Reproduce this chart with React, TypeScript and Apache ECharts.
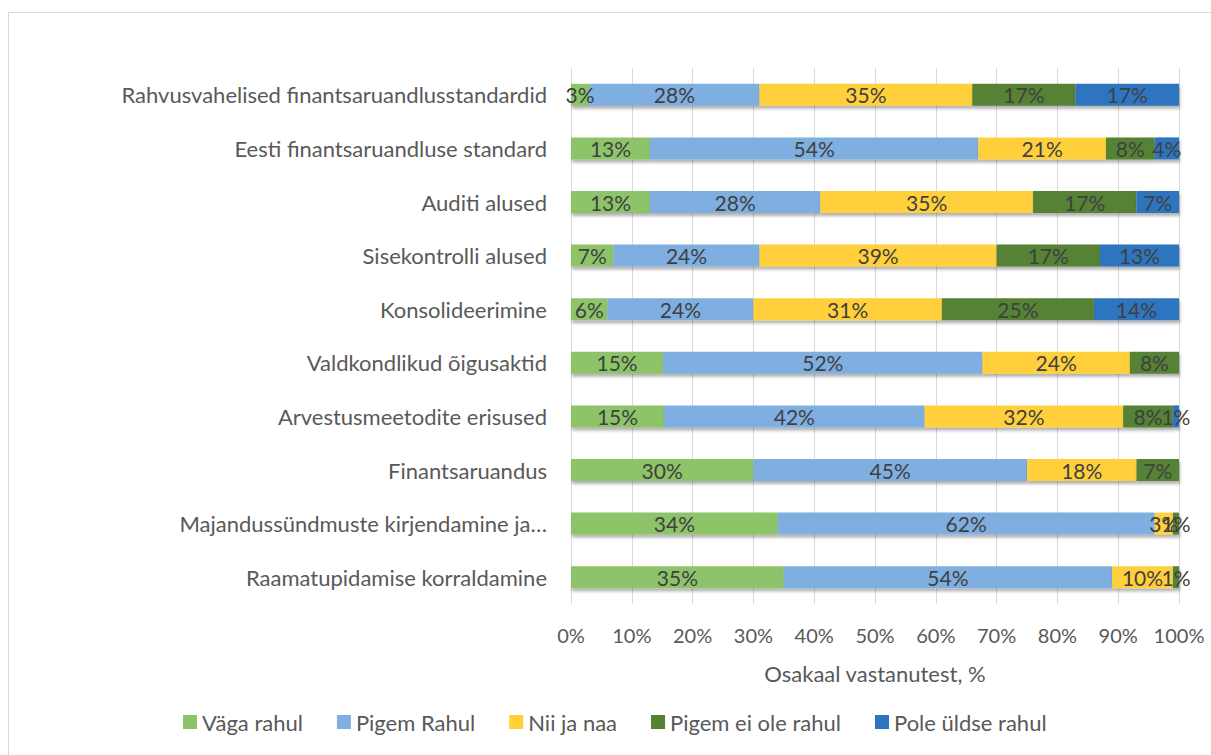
import React, { useEffect, useRef } from "react";
import * as echarts from "echarts";

const categories = [
  "Rahvusvahelised finantsaruandlusstandardid",
  "Eesti finantsaruandluse standard",
  "Auditi alused",
  "Sisekontrolli alused",
  "Konsolideerimine",
  "Valdkondlikud õigusaktid",
  "Arvestusmeetodite erisused",
  "Finantsaruandus",
  "Majandussündmuste kirjendamine ja…",
  "Raamatupidamise korraldamine",
];

const seriesNames = ["Väga rahul", "Pigem Rahul", "Nii ja naa", "Pigem ei ole rahul", "Pole üldse rahul"];
const seriesColors = ["#8DC46A", "#7FAEE0", "#FFD03A", "#548235", "#2E75C0"];

const vagaRahul = [3, 13, 13, 7, 6, 15, 15, 30, 34, 35];
const pigemRahul = [28, 54, 28, 24, 24, 52, 42, 45, 62, 54];
const niiJaNaa = [35, 21, 35, 39, 31, 24, 32, 18, 3, 10];
const pigemEiOle = [17, 8, 17, 17, 25, 8, 8, 7, 1, 1];
const poleUldse = [17, 4, 7, 13, 14, 0, 1, 0, 0, 0];

const xTicks = [0, 10, 20, 30, 40, 50, 60, 70, 80, 90, 100];

const FONT = "Lato, 'Noto Sans', sans-serif";

export default function App() {
  const ref = useRef<HTMLDivElement>(null);
  useEffect(() => {
    if (!ref.current) return;
    const chart = echarts.init(ref.current, undefined, { renderer: "svg" });
    const all = [vagaRahul, pigemRahul, niiJaNaa, pigemEiOle, poleUldse];
    const totals = categories.map((_, i) => all.reduce((s, arr) => s + arr[i], 0));
    const series = all.map((arr, si) => ({
      name: seriesNames[si],
      type: "bar",
      stack: "total",
      barWidth: 22,
      data: arr.map((v, i) => ({ value: (v / totals[i]) * 100, raw: v })),
      itemStyle: {
        color: seriesColors[si],
        shadowColor: "rgba(0,0,0,0.3)",
        shadowBlur: 3,
        shadowOffsetX: 1,
        shadowOffsetY: 3,
      },
      label: {
        show: true,
        position: "inside",
        color: "#404040",
        fontFamily: FONT,
        fontSize: 21,
        formatter: (p: any) => (p.data.raw > 0 ? p.data.raw + "%" : ""),
      },
    }));
    chart.setOption({
      animation: false,
      backgroundColor: "#fff",
      textStyle: { fontFamily: FONT },
      graphic: [
        {
          type: "rect",
          shape: { x: 8.5, y: 12.5, width: 1400, height: 1000 },
          style: { fill: "none", stroke: "#D9D9D9", lineWidth: 1 },
          silent: true,
        },
      ],
      grid: { left: 571, right: 32, top: 68, bottom: 151, containLabel: false },
      legend: {
        left: 178,
        top: 706,
        icon: "rect",
        itemWidth: 14,
        itemHeight: 14,
        itemGap: 34,
        textStyle: { color: "#595959", fontSize: 22, fontFamily: FONT },
        data: seriesNames,
      },
      xAxis: {
        type: "value",
        min: xTicks[0],
        max: xTicks[xTicks.length - 1],
        interval: 10,
        name: "Osakaal vastanutest, %",
        nameLocation: "middle",
        nameGap: 58,
        nameTextStyle: { color: "#595959", fontSize: 22, fontFamily: FONT },
        axisLine: { show: false },
        axisTick: { show: false },
        axisLabel: { formatter: "{value}%", color: "#595959", fontSize: 20, margin: 21, fontFamily: FONT },
        splitLine: { show: true, lineStyle: { color: "#D9D9D9", width: 1 } },
      },
      yAxis: {
        type: "category",
        inverse: true,
        data: categories,
        axisLine: { show: true, lineStyle: { color: "#D9D9D9" } },
        axisTick: { show: false },
        axisLabel: { color: "#595959", fontSize: 22, margin: 24, fontFamily: FONT },
      },
      series,
    });
    return () => chart.dispose();
  }, []);
  return <div ref={ref} style={{ position: "absolute", left: 0, top: 0, width: 1211, height: 755 }} />;
}
